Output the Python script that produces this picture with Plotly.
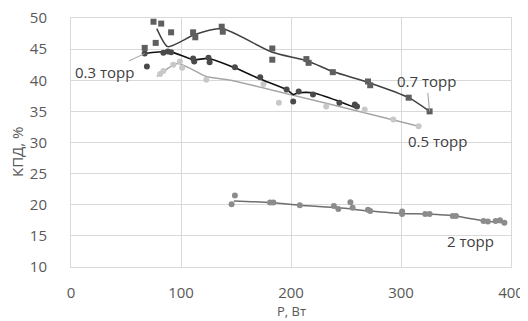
import plotly.graph_objects as go

# ---- data ----
x07 = [67, 75, 77, 82, 91, 111, 113, 137, 138, 183, 183, 214, 216, 238, 270, 272, 307, 326]
y07 = [45.2, 49.4, 46.0, 49.1, 47.7, 47.7, 46.9, 48.6, 47.8, 45.1, 43.3, 43.4, 42.8, 41.3, 39.8, 39.2, 37.2, 35.0]
x07_line = [78, 88, 112, 137, 183, 215, 238, 271, 307, 326]
y07_line = [48.3, 45.4, 47.3, 48.3, 44.5, 43.1, 41.4, 39.6, 37.2, 35.0]

x03 = [67, 69, 84, 88, 91, 111, 112, 125, 126, 149, 172, 196, 202, 207, 220, 244, 258, 260]
y03 = [44.3, 42.2, 44.4, 44.6, 44.5, 43.5, 43.0, 43.6, 42.9, 42.1, 40.5, 38.5, 36.6, 38.2, 37.7, 36.4, 36.1, 35.8]
x03_line = [67, 90, 111, 125, 149, 172, 196, 202, 207, 220, 244, 260]
y03_line = [44.3, 44.6, 43.3, 43.5, 42.0, 40.2, 38.5, 37.7, 38.0, 38.0, 36.6, 35.5]

x05 = [81, 84, 93, 99, 101, 123, 175, 189, 232, 267, 293, 316]
y05 = [41.0, 41.5, 42.5, 43.0, 42.0, 40.1, 39.4, 36.4, 35.8, 35.3, 33.7, 32.6]
x05_line = [78, 97, 123, 145, 232, 316]
y05_line = [40.6, 42.7, 40.6, 40.0, 36.3, 32.6]

x2 = [146, 149, 181, 184, 208, 239, 243, 254, 256, 270, 272, 301, 301, 322, 326, 347, 350, 375, 379, 386, 390, 394]
y2 = [20.1, 21.5, 20.35, 20.35, 19.9, 19.8, 19.3, 20.4, 19.5, 19.2, 19.0, 18.5, 18.9, 18.5, 18.5, 18.2, 18.2, 17.4, 17.3, 17.4, 17.5, 17.1]
x2_line = [148, 182, 208, 243, 272, 301, 325, 349, 376, 394]
y2_line = [20.6, 20.35, 19.9, 19.5, 19.0, 18.6, 18.5, 18.2, 17.4, 17.1]

series_labels = ["0.3 торр", "0.7 торр", "0.5 торр", "2 торр"]
x_ticks = [0, 100, 200, 300, 400]
y_ticks = [10, 15, 20, 25, 30, 35, 40, 45, 50]

FONT = "Open Sans"
fig = go.Figure()

def add_series(xm, ym, xl, yl, mcolor, lcolor, symbol, lwidth):
    fig.add_trace(go.Scatter(x=xl, y=yl, mode="lines",
                             line=dict(color=lcolor, width=lwidth, shape="spline", smoothing=0.6),
                             showlegend=False, hoverinfo="skip"))
    fig.add_trace(go.Scatter(x=xm, y=ym, mode="markers",
                             marker=dict(color=mcolor, size=6, symbol=symbol),
                             showlegend=False))

add_series(x05, y05, x05_line, y05_line, "#c8c8c8", "#a6a6a6", "circle", 1.5)
add_series(x2, y2, x2_line, y2_line, "#8c8c8c", "#6f6f6f", "circle", 1.5)
add_series(x07, y07, x07_line, y07_line, "#5f5f5f", "#404040", "square", 1.5)
add_series(x03, y03, x03_line, y03_line, "#4a4a4a", "#111111", "circle", 1.6)

# series labels
lab_font = dict(family=FONT, size=15, color="#404040")
fig.add_annotation(x=67, y=44.3, text=series_labels[0], showarrow=True, arrowhead=0,
                   arrowwidth=1, arrowcolor="#a0a0a0", ax=-40, ay=19, font=lab_font)
fig.add_annotation(x=326, y=35.0, text=series_labels[1], showarrow=True, arrowhead=0,
                   arrowwidth=1, arrowcolor="#a0a0a0", ax=-3, ay=-30, font=lab_font)
fig.add_annotation(x=333.6, y=30.3, text=series_labels[2], showarrow=False, font=lab_font)
fig.add_annotation(x=363.6, y=14.2, text=series_labels[3], showarrow=False, font=lab_font)

title_font = dict(family=FONT, size=13, color="#595959")
# axis titles placed like the reference
fig.add_annotation(xref="paper", yref="paper", x=(9 - 63) / 440, y=1 - (152 - 18) / 249,
                   xanchor="center", yanchor="middle", textangle=-90, showarrow=False,
                   text="КПД, %", font=dict(family=FONT, size=15, color="#595959"))
fig.add_annotation(xref="paper", yref="paper", x=0.5, y=-44 / 249,
                   xanchor="center", yanchor="middle", showarrow=False,
                   text="Р, Вт", font=title_font)

axis_common = dict(showgrid=True, gridcolor="#d9d9d9", gridwidth=1,
                   showline=True, linecolor="#d9d9d9", linewidth=1, mirror=True,
                   zeroline=False, ticks="outside", tickcolor="rgba(0,0,0,0)",
                   automargin=False, ticklabeloverflow="allow",
                   tickfont=dict(family=FONT, size=15, color="#595959"))

# page body has an 8px default margin, so the figure is 8px smaller on each axis
fig.update_layout(
    width=520, height=313,
    margin=dict(l=63, r=17, t=10, b=54),
    plot_bgcolor="white", paper_bgcolor="white",
    xaxis=dict(range=[0, 400], tickvals=x_ticks, ticklen=12, **axis_common),
    yaxis=dict(range=[10, 50], tickvals=y_ticks, ticklen=20, **axis_common),
)

fig.write_html("out.html")
